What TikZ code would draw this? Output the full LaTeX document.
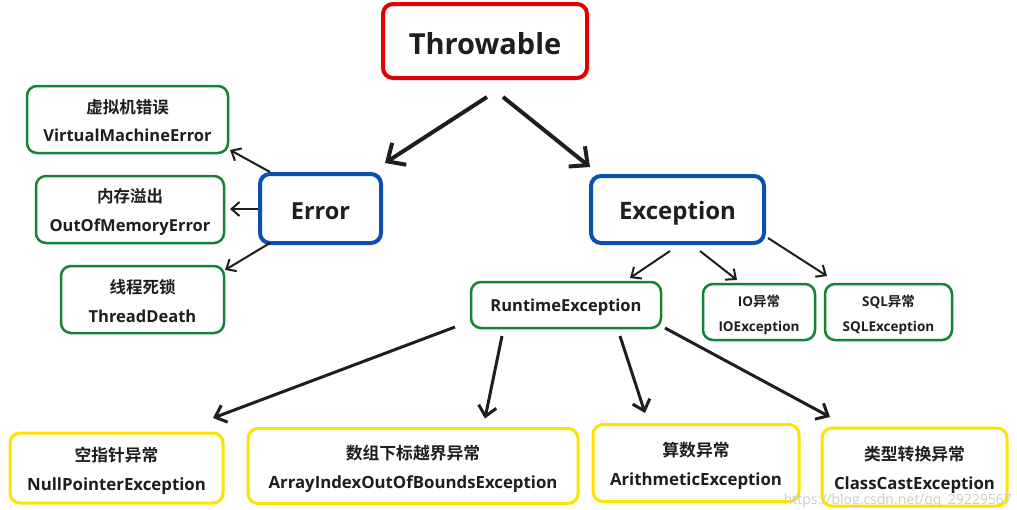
\documentclass[tikz,border=0pt]{standalone}
\usepackage{fontspec}
\setmainfont{Open Sans}[BoldFont={Open Sans Bold}]
\newfontfamily\cjk{Noto Sans CJK SC}[BoldFont={Noto Sans CJK SC Bold}]
\usetikzlibrary{arrows.meta,calc}
\definecolor{cred}{RGB}{226,0,0}
\definecolor{cblue}{RGB}{10,80,175}
\definecolor{cgreen}{RGB}{20,130,55}
\definecolor{cyell}{RGB}{250,228,0}
\definecolor{ctext}{RGB}{30,30,30}
\newcommand\twolines[3]{\raisebox{#1}[\height][\depth]{\begin{tabular}{@{}c@{}}#2\\#3\end{tabular}}}
\newcommand\oneline[2]{\raisebox{#1}[\height][\depth]{#2}}
\tikzset{
  box/.style={draw, rounded corners=10pt, fill=white, inner sep=0pt, align=center, text=ctext, font=\bfseries},
  redbox/.style={box, draw=cred, line width=4pt},
  bluebox/.style={box, draw=cblue, line width=4pt},
  greenbox/.style={box, draw=cgreen, line width=2.5pt},
  yellbox/.style={box, draw=cyell, line width=3pt},
  big/.style={-{Straight Barb[length=14pt,width=26pt,line width=4pt]}, line width=4pt, draw=ctext},
  mid/.style={-{Straight Barb[length=10pt,width=18pt,line width=3pt]}, line width=3pt, draw=ctext},
  small/.style={-{Straight Barb[length=8pt,width=14pt,line width=2pt]}, line width=2pt, draw=ctext},
}
\begin{document}
\begin{tikzpicture}[x=1pt,y=-1pt]
\useasboundingbox (0,0) rectangle (1017,509);
\fill[white] (0,0) rectangle (1017,509);
% nodes
\node[redbox, minimum width=204pt, minimum height=74pt, font=\bfseries\fontsize{29}{32}\selectfont] (thr) at (485,41) {\oneline{-3pt}{Throwable}};
\node[bluebox, minimum width=121pt, minimum height=69pt, font=\bfseries\fontsize{23.5}{26}\selectfont] (err) at (320.5,208.5) {\oneline{-3pt}{Error}};
\node[bluebox, minimum width=173pt, minimum height=67pt, font=\bfseries\fontsize{24}{26}\selectfont] (exc) at (677.5,209.5) {\oneline{-3.5pt}{Exception}};
\node[greenbox, minimum width=201pt, minimum height=67pt, font=\bfseries\fontsize{16.5}{28}\selectfont] (vm) at (127.5,119.5) {\twolines{-2.5pt}{\cjk 虚拟机错误}{VirtualMachineError}};
\node[greenbox, minimum width=188pt, minimum height=67pt, font=\bfseries\fontsize{16.5}{29}\selectfont] (oom) at (130,209.5) {\twolines{-2pt}{\cjk 内存溢出}{OutOfMemoryError}};
\node[greenbox, minimum width=163pt, minimum height=67pt, font=\bfseries\fontsize{16.5}{29}\selectfont] (td) at (142.5,299.5) {\twolines{-2.5pt}{\cjk 线程死锁}{ThreadDeath}};
\node[greenbox, minimum width=190pt, minimum height=46pt, font=\bfseries\fontsize{16.5}{18}\selectfont] (rt) at (566,305) {\oneline{-2.5pt}{RuntimeException}};
\node[greenbox, minimum width=112pt, minimum height=56pt, font=\bfseries\fontsize{13.5}{25}\selectfont] (io) at (759,312) {\twolines{-1.5pt}{IO{\cjk 异常}}{IOException}};
\node[greenbox, minimum width=127pt, minimum height=56pt, font=\bfseries\fontsize{13.5}{25}\selectfont] (sql) at (888.5,312) {\twolines{-1.5pt}{SQL{\cjk 异常}}{SQLException}};
\node[yellbox, minimum width=213pt, minimum height=70pt, font=\bfseries\fontsize{16.8}{29}\selectfont] (npe) at (116.5,468) {\twolines{-2pt}{\cjk 空指针异常}{NullPointerException}};
\node[yellbox, minimum width=330pt, minimum height=75pt, font=\bfseries\fontsize{16.8}{29}\selectfont] (aio) at (413,466) {\twolines{-2pt}{\cjk 数组下标越界异常}{ArrayIndexOutOfBoundsException}};
\node[yellbox, minimum width=206pt, minimum height=77pt, font=\bfseries\fontsize{16.8}{29}\selectfont] (ari) at (696,463) {\twolines{-2pt}{\cjk 算数异常}{ArithmeticException}};
\node[yellbox, minimum width=185pt, minimum height=78pt, font=\bfseries\fontsize{16.8}{29}\selectfont] (cce) at (914.5,467) {\twolines{-2pt}{\cjk 类型转换异常}{ClassCastException}};
% arrows
\draw[big] ($(thr)+(2,56)$) -- ($(err)+(64.5,-45.5)$);
\draw[big] ($(thr)+(18,56)$) -- ($(exc)+(-87.5,-42.5)$);
\draw[small] ($(err)+(-50.5,-36.5)$) -- ($(vm)+(102.5,30.5)$);
\draw[small] ($(err)+(-62.5,0.5)$) -- ($(oom)+(100,-0.5)$);
\draw[small] ($(err)+(-50.5,34.5)$) -- ($(td)+(82.5,-29.5)$);
\draw[small] ($(exc)+(-7.5,41.5)$) -- ($(rt)+(64,-27)$);
\draw[small] ($(exc)+(22.5,41.5)$) -- ($(io)+(-22,-32)$);
\draw[small] ($(exc)+(90.5,28.5)$) -- ($(sql)+(-61.5,-36)$);
\draw[mid] ($(rt)+(-111,22)$) -- ($(npe)+(96.5,-50)$);
\draw[mid] ($(rt)+(-64,31)$) -- ($(aio)+(72,-47.5)$);
\draw[mid] ($(rt)+(54,31)$) -- ($(ari)+(-51,-50)$);
\draw[mid] ($(rt)+(99,23)$) -- ($(cce)+(-84.5,-50)$);
% watermark
\node[text=gray!40, font=\fontsize{14}{15}\selectfont, anchor=east, inner sep=0pt] (wm) at (1012,501) {https://blog.csdn.net/qq\_29229567};
\end{tikzpicture}
\end{document}
